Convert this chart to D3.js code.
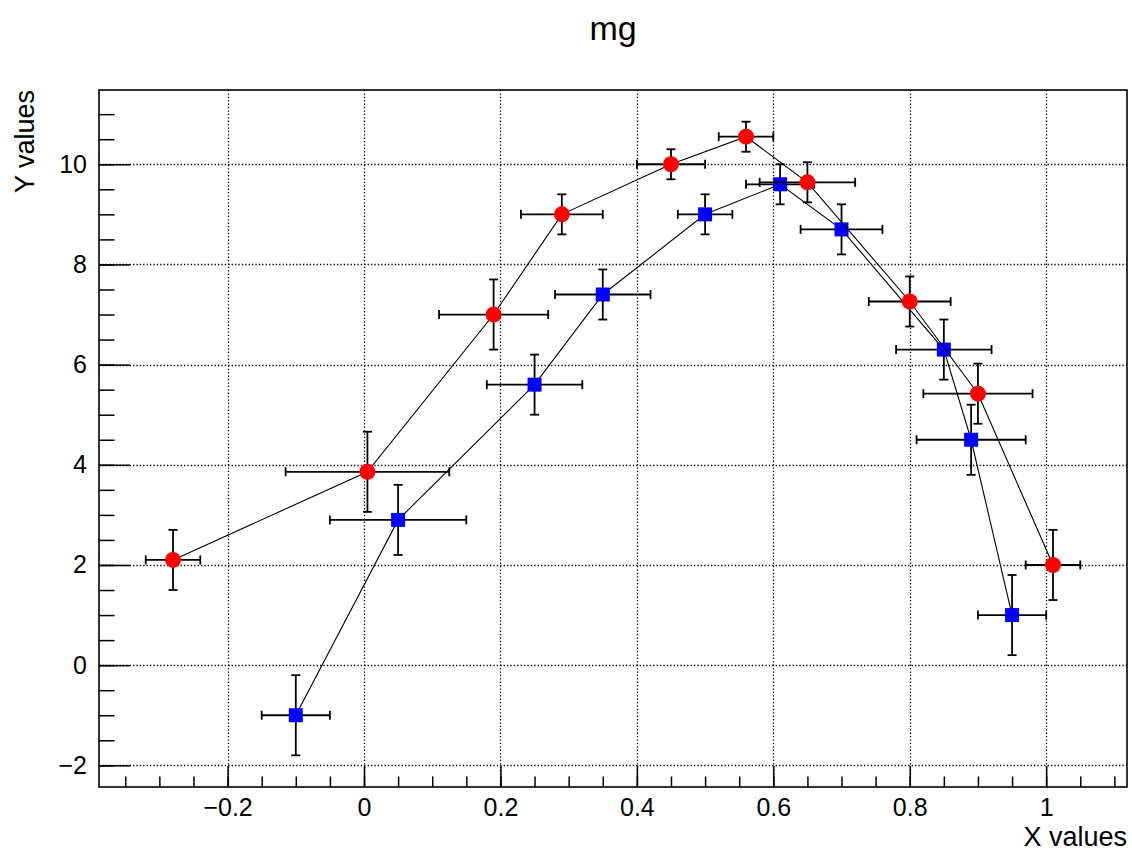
<!DOCTYPE html>
<html>
<head>
<meta charset="utf-8">
<script src="https://cdn.jsdelivr.net/npm/d3@7"></script>
<style>
  html, body { margin: 0; padding: 0; background: #fff; }
  svg { display: block; font-family: "Liberation Sans", Arial, Helvetica, sans-serif; }
</style>
</head>
<body>
<svg id="chart" width="1132" height="851"></svg>
<script>
// ---- data ----
const blueX  = [-0.1, 0.05, 0.25, 0.35, 0.5, 0.61, 0.7, 0.85, 0.89, 0.95];
const blueY  = [-1, 2.9, 5.6, 7.4, 9, 9.6, 8.7, 6.3, 4.5, 1];
const blueEX = [0.05, 0.1, 0.07, 0.07, 0.04, 0.05, 0.06, 0.07, 0.08, 0.05];
const blueEY = [0.8, 0.7, 0.6, 0.5, 0.4, 0.4, 0.5, 0.6, 0.7, 0.8];

const redX  = [-0.28, 0.005, 0.19, 0.29, 0.45, 0.56, 0.65, 0.80, 0.90, 1.01];
const redY  = [2.1, 3.86, 7, 9, 10, 10.55, 9.64, 7.26, 5.42, 2];
const redEX = [0.04, 0.12, 0.08, 0.06, 0.05, 0.04, 0.07, 0.06, 0.08, 0.04];
const redEY = [0.6, 0.8, 0.7, 0.4, 0.3, 0.3, 0.4, 0.5, 0.6, 0.7];

const xTickValues = [-0.2, 0, 0.2, 0.4, 0.6, 0.8, 1];
const xTickLabels = ["\u22120.2", "0", "0.2", "0.4", "0.6", "0.8", "1"];
const yTickValues = [-2, 0, 2, 4, 6, 8, 10];
const yTickLabels = ["\u22122", "0", "2", "4", "6", "8", "10"];

const titleText = "mg";
const xTitle = "X values";
const yTitle = "Y values";

// ---- layout ----
const frame = { left: 99, right: 1127, top: 90, bottom: 787 };
const svg = d3.select("#chart");

// axis range as ROOT computes it: data extent incl. errors, padded by 5%
const allXlo = blueX.map((v,i)=>v-blueEX[i]).concat(redX.map((v,i)=>v-redEX[i]));
const allXhi = blueX.map((v,i)=>v+blueEX[i]).concat(redX.map((v,i)=>v+redEX[i]));
const allYlo = blueY.map((v,i)=>v-blueEY[i]).concat(redY.map((v,i)=>v-redEY[i]));
const allYhi = blueY.map((v,i)=>v+blueEY[i]).concat(redY.map((v,i)=>v+redEY[i]));
let x0 = d3.min(allXlo), x1 = d3.max(allXhi), y0 = d3.min(allYlo), y1 = d3.max(allYhi);
const dx = 0.05*(x1-x0), dy = 0.05*(y1-y0);
x0 -= dx; x1 += dx; y0 -= dy; y1 += dy;

const x = d3.scaleLinear().domain([x0, x1]).range([frame.left, frame.right]);
const y = d3.scaleLinear().domain([y0, y1]).range([frame.bottom, frame.top]);

// ---- grid ----
const grid = svg.append("g").attr("stroke", "#000").attr("stroke-width", 1.3)
  .attr("stroke-dasharray", "1.3,2.1");
grid.selectAll("line.gx").data(xTickValues).join("line")
  .attr("x1", d => Math.round(x(d)) + 0.5).attr("x2", d => Math.round(x(d)) + 0.5)
  .attr("y1", frame.top).attr("y2", frame.bottom);
grid.selectAll("line.gy").data(yTickValues).join("line")
  .attr("x1", frame.left).attr("x2", frame.right)
  .attr("y1", d => Math.round(y(d)) + 0.5).attr("y2", d => Math.round(y(d)) + 0.5);

// ---- axes (ROOT-style ticks inside the frame) ----
const xMinor = d3.range(Math.ceil(x0/0.05), Math.floor(x1/0.05)+1).map(i => +(i*0.05).toFixed(4));
const yMinor = d3.range(Math.ceil(y0/0.5), Math.floor(y1/0.5)+1).map(i => +(i*0.5).toFixed(4));

const xAxisG = svg.append("g").attr("transform", `translate(0,${frame.bottom})`);
xAxisG.call(d3.axisBottom(x).tickValues(xMinor).tickSize(-10.5).tickFormat(""));
xAxisG.append("g").call(d3.axisBottom(x).tickValues(xTickValues).tickSize(-21)
  .tickFormat((d,i) => xTickLabels[i]).tickPadding(11));
xAxisG.selectAll(".domain").remove();
xAxisG.selectAll("line").attr("stroke", "#000").attr("stroke-width", 1.5);
xAxisG.selectAll("text").attr("font-size", 25).attr("fill", "#000")
  .attr("font-family", "'Liberation Sans', Arial, sans-serif");

const yAxisG = svg.append("g").attr("transform", `translate(${frame.left},0)`);
yAxisG.call(d3.axisLeft(y).tickValues(yMinor).tickSize(-15.5).tickFormat(""));
yAxisG.append("g").call(d3.axisLeft(y).tickValues(yTickValues).tickSize(-31)
  .tickFormat((d,i) => yTickLabels[i]).tickPadding(12));
yAxisG.selectAll(".domain").remove();
yAxisG.selectAll("line").attr("stroke", "#000").attr("stroke-width", 1.5);
yAxisG.selectAll("text").attr("font-size", 25).attr("fill", "#000")
  .attr("font-family", "'Liberation Sans', Arial, sans-serif");

// ---- frame ----
svg.append("rect")
  .attr("x", frame.left).attr("y", frame.top)
  .attr("width", frame.right - frame.left).attr("height", frame.bottom - frame.top)
  .attr("fill", "none").attr("stroke", "#000").attr("stroke-width", 1.6);

// ---- series ----
function drawSeries(xs, ys, exs, eys, color, shape) {
  const pts = xs.map((v,i) => ({x: v, y: ys[i], ex: exs[i], ey: eys[i]}));
  const g = svg.append("g");
  const line = d3.line().x(d => x(d.x)).y(d => y(d.y));
  g.append("path").datum(pts).attr("d", line)
    .attr("fill", "none").attr("stroke", "#000").attr("stroke-width", 1.1);

  const cap = 4.5;
  const eb = g.append("g").attr("stroke", "#000").attr("stroke-width", 1.8);
  pts.forEach(d => {
    const cx = x(d.x), cy = y(d.y);
    const xl = x(d.x - d.ex), xr = x(d.x + d.ex);
    const yt = y(d.y + d.ey), yb = y(d.y - d.ey);
    eb.append("line").attr("x1", xl).attr("x2", xr).attr("y1", cy).attr("y2", cy);
    eb.append("line").attr("x1", cx).attr("x2", cx).attr("y1", yt).attr("y2", yb);
    eb.append("line").attr("x1", xl).attr("x2", xl).attr("y1", cy-cap).attr("y2", cy+cap);
    eb.append("line").attr("x1", xr).attr("x2", xr).attr("y1", cy-cap).attr("y2", cy+cap);
    eb.append("line").attr("x1", cx-cap).attr("x2", cx+cap).attr("y1", yt).attr("y2", yt);
    eb.append("line").attr("x1", cx-cap).attr("x2", cx+cap).attr("y1", yb).attr("y2", yb);
  });

  if (shape === "circle") {
    g.selectAll("circle").data(pts).join("circle")
      .attr("cx", d => x(d.x)).attr("cy", d => y(d.y)).attr("r", 8)
      .attr("fill", color);
  } else {
    const s = 14;
    g.selectAll("rect.m").data(pts).join("rect")
      .attr("x", d => x(d.x) - s/2).attr("y", d => y(d.y) - s/2)
      .attr("width", s).attr("height", s).attr("fill", color);
  }
}
drawSeries(blueX, blueY, blueEX, blueEY, "#0000ff", "square");
drawSeries(redX, redY, redEX, redEY, "#ff0000", "circle");

// ---- titles ----
svg.append("text").attr("x", 613).attr("y", 40).attr("text-anchor", "middle")
  .attr("font-size", 34).attr("fill", "#000").text(titleText);
svg.append("text").attr("x", frame.right).attr("y", 846).attr("text-anchor", "end")
  .attr("font-size", 27).attr("fill", "#000").text(xTitle);
svg.append("text").attr("transform", `translate(34,${frame.top}) rotate(-90)`)
  .attr("text-anchor", "end").attr("font-size", 27).attr("fill", "#000").text(yTitle);
</script>
</body>
</html>
